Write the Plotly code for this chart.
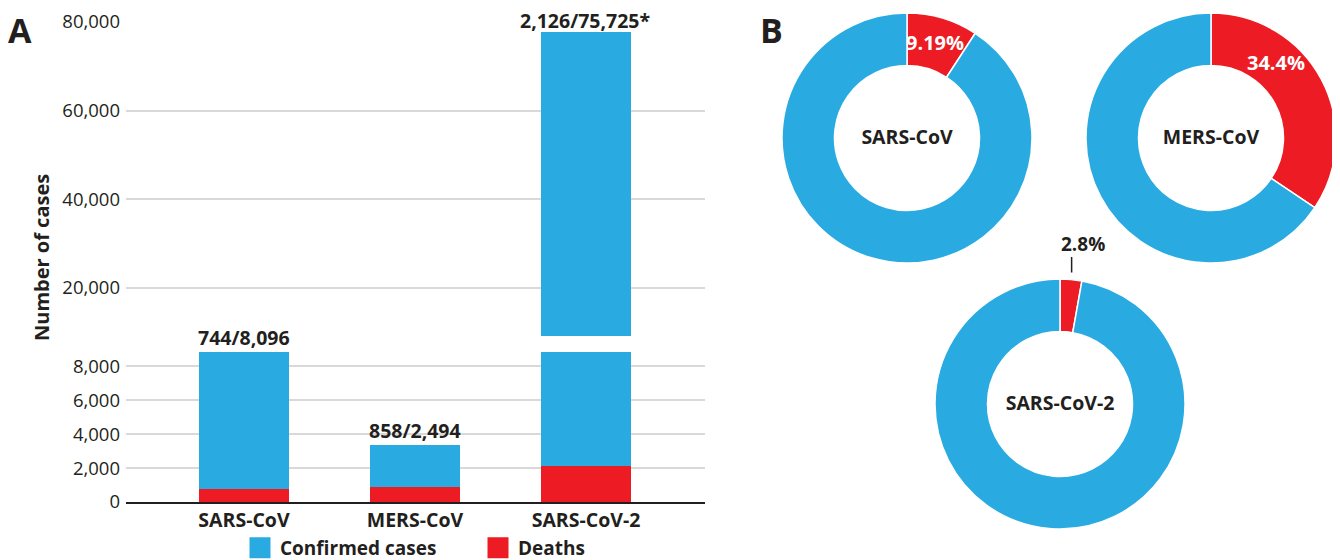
import math
import plotly.graph_objects as go

# ---- data ----
viruses = ["SARS-CoV", "MERS-CoV", "SARS-CoV-2"]
deaths = [744, 858, 2126]
confirmed = [8096, 2494, 75725]
label_notes = ["", "", "*"]
low_ticks = [0, 2000, 4000, 6000, 8000]
high_ticks = [20000, 40000, 60000, 80000]
pct_formats = [".2%", ".1%", ".1%"]

BLUE = "#29ABE2"
RED = "#ED1C24"
DARK = "#231F20"
GRID = "#D9D9D9"
FONT = "Open Sans"

W, H = 1340, 560
OFF = 8  # page body margin


def px_x(p):
    return (p - OFF) / W


def px_y(p):
    return 1 - (p - OFF) / H


fig = go.Figure()

# stacked bars: deaths at the bottom, confirmed cases on top, in both axis segments
for xa, ya in [("x", "y"), ("x2", "y2")]:
    fig.add_trace(go.Bar(x=viruses, y=deaths, name="Deaths", marker=dict(color=RED, line=dict(width=0)),
                         width=0.532, xaxis=xa, yaxis=ya, showlegend=False, hoverinfo="x+y"))
    fig.add_trace(go.Bar(x=viruses, y=confirmed, name="Confirmed cases", marker=dict(color=BLUE, line=dict(width=0)),
                         width=0.532, xaxis=xa, yaxis=ya, showlegend=False, hoverinfo="x+y"))

# legend entries
fig.add_trace(go.Scatter(x=[None], y=[None], mode="markers", name="Confirmed cases",
                         marker=dict(symbol="square", size=22, color=BLUE, line=dict(color=BLUE, width=5)),
                         xaxis="x", yaxis="y"))
fig.add_trace(go.Scatter(x=[None], y=[None], mode="markers", name="Deaths",
                         marker=dict(symbol="square", size=22, color=RED, line=dict(color=RED, width=5)),
                         xaxis="x", yaxis="y"))

totals = [d + c for d, c in zip(deaths, confirmed)]

# donuts (centre and outer radius in page pixels)
pie_centers = [(907, 138), (1211, 138), (1060, 404)]
R = 125
label_pos = [0.5, 0.33, None]  # where along the red slice the % label sits
annotations = []
for i, v in enumerate(viruses):
    cx, cy = pie_centers[i]
    frac = deaths[i] / confirmed[i]
    fig.add_trace(go.Pie(
        values=[deaths[i], confirmed[i] - deaths[i]],
        labels=["Deaths", "Other cases"],
        marker=dict(colors=[RED, BLUE], line=dict(color="white", width=1.5)),
        hole=0.58, sort=False, direction="clockwise", rotation=0,
        domain=dict(x=[px_x(cx - R), px_x(cx + R)], y=[px_y(cy + R), px_y(cy - R)]),
        textinfo="none",
        title=dict(text="<b>" + v + "</b>", position="middle center",
                   font=dict(family=FONT, size=19.5, color=DARK)),
        showlegend=False, hoverinfo="label+value+percent",
    ))
    pct = f"<b>{frac:{pct_formats[i]}}</b>"
    if label_pos[i] is not None:
        a = math.radians(360 * frac * label_pos[i])
        r = 0.8 * R
        annotations.append(dict(x=px_x(cx + r * math.sin(a)), y=px_y(cy - r * math.cos(a)),
                                xref="paper", yref="paper", text=pct, showarrow=False,
                                xanchor="center", yanchor="middle",
                                font=dict(family=FONT, size=20, color="white")))
    else:
        a = math.radians(360 * frac / 2)
        tipx, tipy = cx + (R + 7) * math.sin(a), cy - (R + 7) * math.cos(a)
        annotations.append(dict(x=px_x(tipx), y=px_y(tipy), xref="paper", yref="paper", text="",
                                showarrow=True, arrowhead=0, arrowwidth=1.5, arrowcolor=DARK,
                                ax=0, ay=-17))
        annotations.append(dict(x=px_x(tipx - 13), y=px_y(tipy - 29), xref="paper", yref="paper",
                                text=pct, showarrow=False, xanchor="left", yanchor="middle",
                                font=dict(family=FONT, size=19, color=DARK)))

for i, v in enumerate(viruses):
    txt = f"<b>{deaths[i]:,}/{confirmed[i]:,}{label_notes[i]}</b>"
    annotations.append(dict(x=v, y=totals[i], xref="x" if i < 2 else "x2", yref="y" if i < 2 else "y2",
                            text=txt, showarrow=False, xanchor="center", yanchor="bottom",
                            yshift=-1 if i < 2 else -3, borderpad=1 if i < 2 else 0,
                            font=dict(family=FONT, size=19.5, color=DARK)))

annotations += [
    dict(x=px_x(42), y=px_y(258), xref="paper", yref="paper", text="<b>Number of cases</b>",
         xanchor="center", yanchor="middle",
         textangle=-90, showarrow=False, font=dict(family=FONT, size=20, color=DARK)),
    dict(x=px_x(19.5), y=px_y(30), xref="paper", yref="paper", text="<b>A</b>", xanchor="center",
         yanchor="middle", showarrow=False, font=dict(family=FONT, size=34, color=DARK)),
    dict(x=px_x(771), y=px_y(30), xref="paper", yref="paper", text="<b>B</b>", xanchor="center",
         yanchor="middle", showarrow=False, font=dict(family=FONT, size=34, color=DARK)),
]

xr = [-0.69, 2.696]
fig.update_layout(
    width=W, height=H, margin=dict(l=0, r=0, t=0, b=0, autoexpand=False),
    paper_bgcolor="white", plot_bgcolor="white",
    barmode="stack", bargap=0,
    font=dict(family=FONT, color=DARK),
    xaxis=dict(domain=[px_x(126), px_x(705)], range=xr, anchor="y", showline=True, linecolor=DARK, linewidth=1.5,
               ticks="", tickfont=dict(family=FONT, size=19.5, color=DARK, weight="bold"), fixedrange=True),
    xaxis2=dict(domain=[px_x(126), px_x(705)], range=xr, anchor="y2", matches="x", showticklabels=False,
                showline=False, fixedrange=True),
    yaxis=dict(domain=[px_y(502), px_y(352)], range=[0, totals[0]], tickvals=low_ticks, tickformat=",",
               showgrid=True, gridcolor=GRID, gridwidth=1.5, zeroline=False, ticks="", ticklabelstandoff=5,
               tickfont=dict(family=FONT, size=18.5, color=DARK), anchor="x", fixedrange=True),
    yaxis2=dict(domain=[px_y(336), px_y(22)], range=[9170, 80000], tickvals=high_ticks, tickformat=",",
                showgrid=True, gridcolor=GRID, gridwidth=1.5, zeroline=False, ticks="", ticklabelstandoff=5,
                tickfont=dict(family=FONT, size=18.5, color=DARK), anchor="x2", fixedrange=True),
    legend=dict(orientation="h", x=px_x(240), y=px_y(529), xanchor="left", yanchor="top",
                entrywidth=193, entrywidthmode="pixels",
                font=dict(family=FONT, size=19, color=DARK, weight="bold"), traceorder="normal",
                itemclick=False, itemdoubleclick=False, bgcolor="rgba(0,0,0,0)"),
    annotations=annotations,
)

fig.write_html("out.html")
